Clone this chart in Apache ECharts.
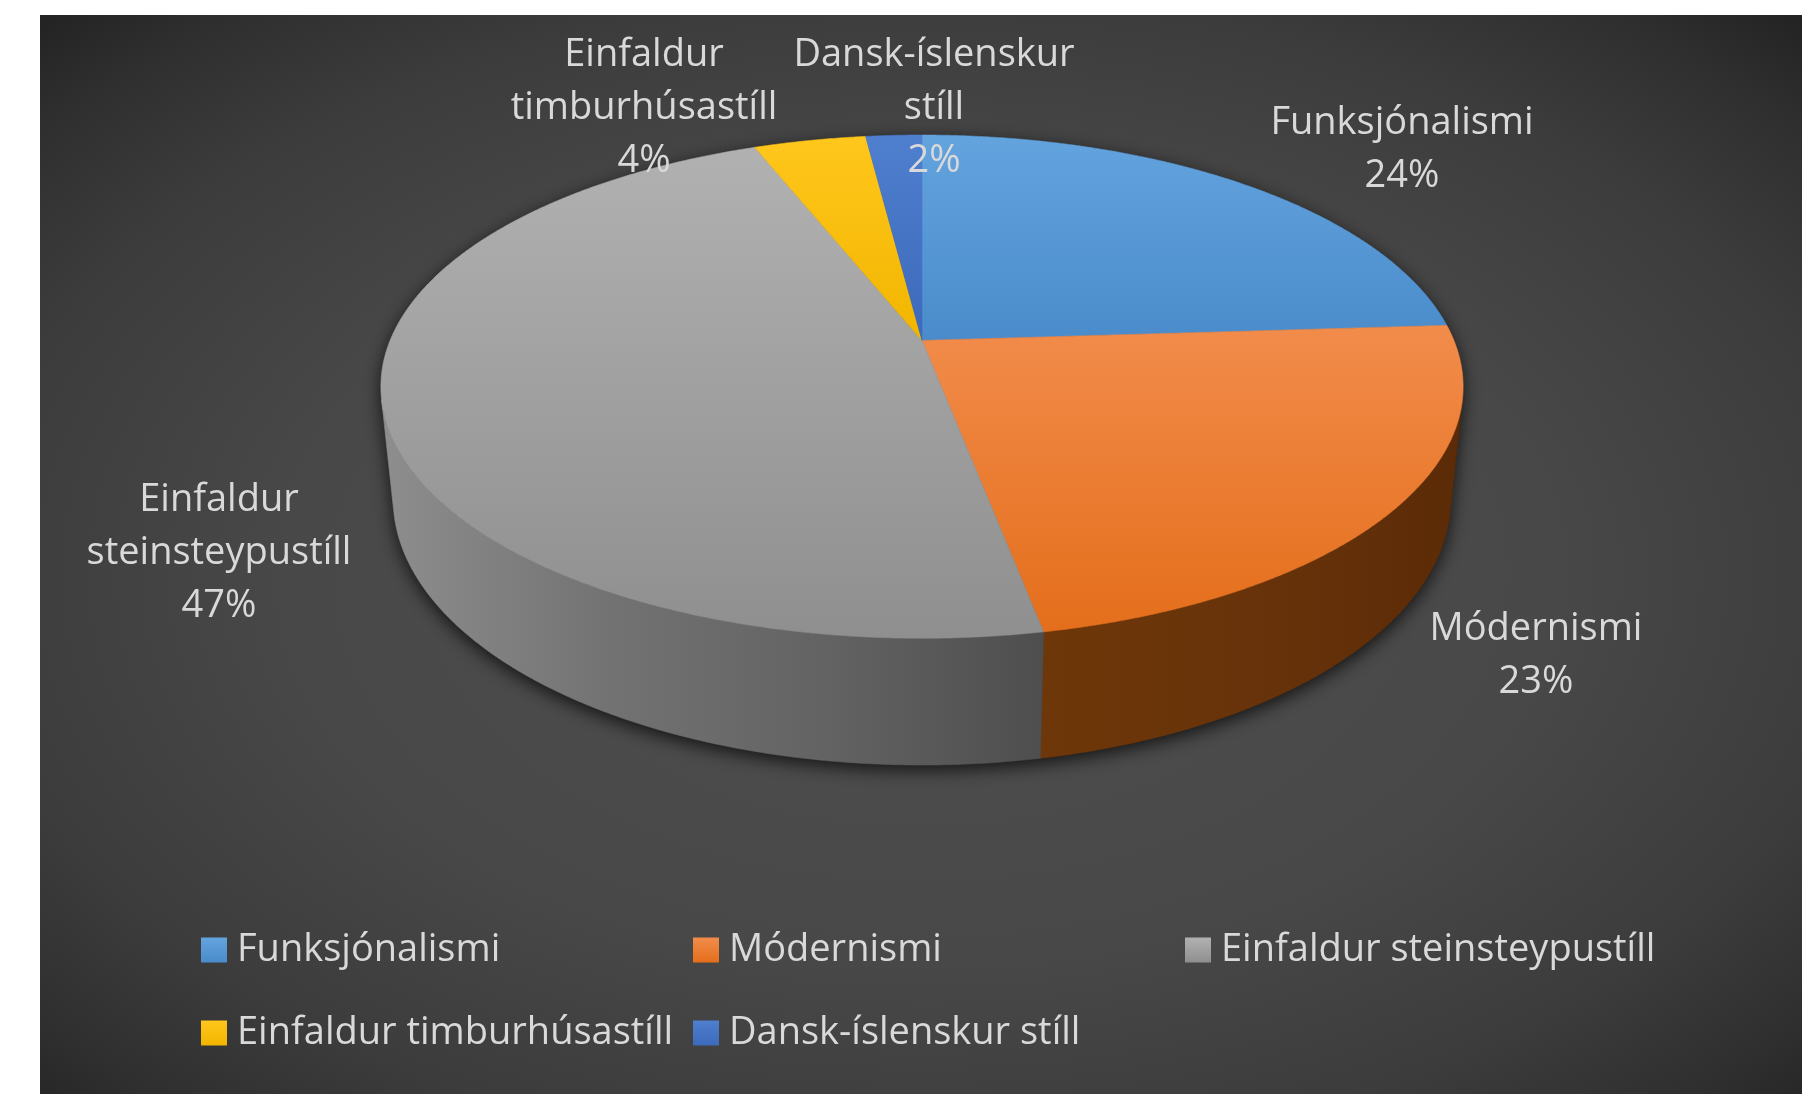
<!DOCTYPE html>
<html>
<head>
<meta charset="utf-8">
<title>Byggingarstílar</title>
<script src="https://cdn.jsdelivr.net/npm/echarts@6/dist/echarts.min.js"></script>
<style>
  html, body { margin: 0; padding: 0; background: #fff; }
  #chart { width: 1810px; height: 1094px; }
</style>
</head>
<body>
<div id="chart"></div>
<script>
// data
const categories = ['Funksjónalismi', 'Módernismi', 'Einfaldur steinsteypustíll', 'Einfaldur timburhúsastíll', 'Dansk-íslenskur stíll'];
const values = [24, 23, 47, 4, 2];

// styles (top face gradient top->bottom, side wall gradient left->right)
const topColors = [
  ['#63a3de', '#4a8bcb'],
  ['#f28c4b', '#e46e1b'],
  ['#b1b1b1', '#8f8f8f'],
  ['#ffc61c', '#f2b600'],
  ['#4f7fcf', '#3d69ba']
];
const wallColors = [
  ['#2f5f8e', '#234a70'],
  ['#6e3709', '#68330a', '#5b2b07'],
  ['#8e8e8e', '#737373', '#636363', '#4e4e4e'],
  ['#8a6a00', '#6b5200'],
  ['#2a4a85', '#1e3868']
];
// label anchor (centre of text block), layout only
const labelAt = [[1402, 150], [1536, 656], [219, 553], [644, 108], [934, 108]];

// 3D view of the disc (radius 1, thickness depth)
const view = { cx: 922, cy: 340.5, F: 2580, D: 4.85, tilt: 27.2 * Math.PI / 180, depth: 0.239 };
const sinT = Math.sin(view.tilt), cosT = Math.cos(view.tilt);
const zVis = 1 / (view.D * cosT);
const aVis0 = Math.acos(-zVis), aVis1 = 2 * Math.PI - aVis0;

function project(x, y, z) {
  const d = view.D - (y * sinT + z * cosT);
  return [view.cx + view.F * x / d, view.cy - view.F * (y * cosT - z * sinT) / d];
}
// angle measured clockwise from 12 o'clock
function rim(a, y) {
  return project(Math.sin(a), y, -Math.cos(a));
}
function arc(a0, a1, y) {
  const pts = [];
  const n = Math.max(2, Math.ceil(Math.abs(a1 - a0) / 0.006));
  for (let j = 0; j <= n; j++) pts.push(rim(a0 + (a1 - a0) * j / n, y));
  return pts;
}
function stops(cols) {
  return cols.map((c, i) => ({ offset: i / (cols.length - 1), color: c }));
}

const total = values.reduce((a, b) => a + b, 0);
const starts = [];
values.reduce((acc, v, i) => { starts[i] = acc; return acc + v; }, 0);

function renderSlice(i) {
  return function (params, api) {
    const v = api.value(0), s0 = api.value(1), tot = api.value(2);
    const a0 = s0 / tot * 2 * Math.PI, a1 = (s0 + v) / tot * 2 * Math.PI;
    const children = [];
    const w0 = Math.max(a0, aVis0), w1 = Math.min(a1, aVis1);
    if (w1 > w0) {
      const pts = arc(w0, w1, 0).concat(arc(w1, w0, -view.depth));
      const wallFill = new echarts.graphic.LinearGradient(0, 0, 1, 0, stops(wallColors[i]));
      children.push({
        type: 'polygon', shape: { points: pts },
        style: { fill: wallFill, stroke: wallFill, lineWidth: 0.6 }
      });
    }
    const topFill = new echarts.graphic.LinearGradient(0, 0, 0, 1, stops(topColors[i]));
    children.push({
      type: 'polygon', shape: { points: [project(0, 0, 0)].concat(arc(a0, a1, 0)) },
      style: { fill: topFill, stroke: topFill, lineWidth: 0.6 }
    });
    children.push({
      type: 'text', x: labelAt[i][0], y: labelAt[i][1],
      style: {
        text: categories[i].replace(' ', '\n') + '\n' + Math.round(v / tot * 100) + '%',
        fill: '#d9d9d9', fontFamily: 'Open Sans', fontSize: 38, lineHeight: 53,
        align: 'center', verticalAlign: 'middle'
      }
    });
    return { type: 'group', children: children };
  };
}

const series = categories.map((name, i) => ({
  type: 'custom',
  name: name,
  coordinateSystem: 'none',
  silent: true,
  z: 3,
  itemStyle: { color: new echarts.graphic.LinearGradient(0, 0, 0, 1, stops(topColors[i])) },
  data: [[values[i], starts[i], total]],
  renderItem: renderSlice(i)
}));

// drop shadow under the disc
series.unshift({
  type: 'custom',
  coordinateSystem: 'none',
  silent: true,
  z: 2,
  data: [[0]],
  renderItem: function () {
    const pts = arc(aVis1, aVis0 + 2 * Math.PI, 0).concat(arc(aVis0, aVis1, -view.depth));
    return {
      type: 'polygon', shape: { points: pts },
      style: { fill: '#1c1c1c', shadowBlur: 18, shadowColor: 'rgba(0,0,0,0.75)', shadowOffsetY: 5 }
    };
  }
});

const chart = echarts.init(document.getElementById('chart'), null, { renderer: 'canvas' });
chart.setOption({
  animation: false,
  backgroundColor: '#ffffff',
  graphic: [{
    type: 'rect',
    x: 40, y: 15,
    scaleX: 1762 / 1079,
    shape: { x: 0, y: 0, width: 1079, height: 1079 },
    silent: true,
    z: -10,
    style: {
      fill: new echarts.graphic.RadialGradient(0.5, 0.52, 0.72, [
        { offset: 0, color: '#4f4f4f' },
        { offset: 0.5, color: '#484848' },
        { offset: 0.75, color: '#3c3c3c' },
        { offset: 0.9, color: '#2f2f2f' },
        { offset: 1, color: '#232323' }
      ])
    }
  }],
  legend: {
    data: categories,
    left: 201,
    top: 914,
    width: 1540,
    padding: 0,
    itemWidth: 26,
    itemHeight: 25,
    itemGap: 11,
    icon: 'rect',
    selectedMode: false,
    textStyle: {
      color: '#d9d9d9', fontFamily: 'Open Sans', fontSize: 38,
      width: 445, lineHeight: 72, padding: [0, 0, 0, 5]
    }
  },
  series: series
});
</script>
</body>
</html>
